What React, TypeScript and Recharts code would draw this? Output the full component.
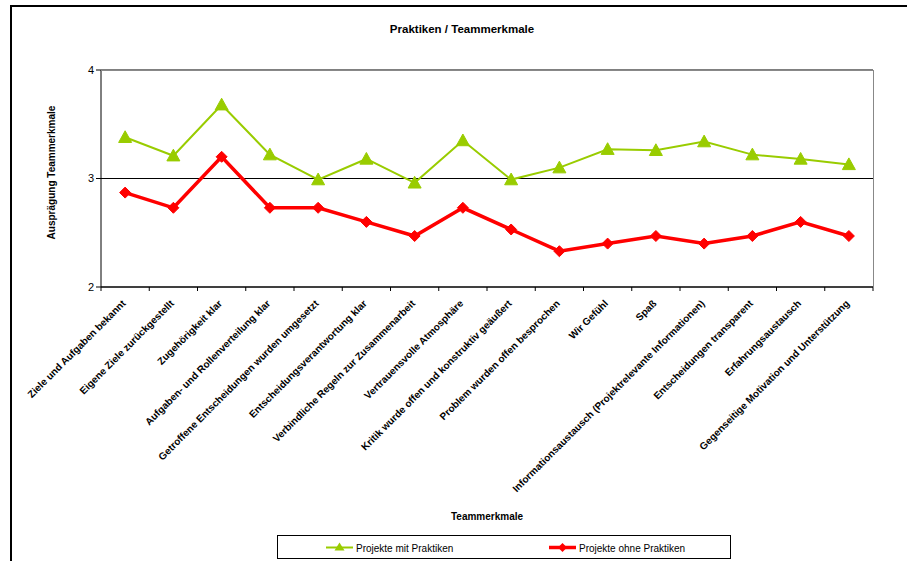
import React from 'react';
import { LineChart, Line, XAxis, YAxis, CartesianGrid } from 'recharts';

document.body.style.margin = '0';

const categories = [
  'Ziele und  Aufgaben bekannt',
  'Eigene Ziele zurückgestellt',
  'Zugehörigkeit klar',
  'Aufgaben- und Rollenverteilung klar',
  'Getroffene Entscheidungen wurden umgesetzt',
  'Entscheidungsverantwortung klar',
  'Verbindliche Regeln zur Zusammenarbeit',
  'Vertrauensvolle Atmosphäre',
  'Kritik wurde offen und konstruktiv geäußert',
  'Problem wurden offen besprochen',
  'Wir Gefühl',
  'Spaß',
  'Informationsaustausch (Projektrelevante Informationen)',
  'Entscheidungen transparent',
  'Erfahrungsaustausch',
  'Gegenseitige Motivation und Unterstützung',
];

const mitPraktiken = [3.38, 3.21, 3.68, 3.22, 2.99, 3.18, 2.96, 3.35, 2.99, 3.1, 3.27, 3.26, 3.34, 3.22, 3.18, 3.13];
const ohnePraktiken = [2.87, 2.73, 3.2, 2.73, 2.73, 2.6, 2.47, 2.73, 2.53, 2.33, 2.4, 2.47, 2.4, 2.47, 2.6, 2.47];

const yTicks = [2, 3, 4];
const seriesNames = ['Projekte mit Praktiken', 'Projekte ohne Praktiken'];

const data = categories.map((c, i) => ({
  pos: i + 0.5,
  name: c,
  mit: mitPraktiken[i],
  ohne: ohnePraktiken[i],
}));

const boundaryTicks = Array.from({ length: categories.length + 1 }, (_, i) => i);

const FONT = '"Liberation Sans", Arial, sans-serif';

const Triangle = (props: any) => {
  const { cx, cy } = props;
  if (cx == null || cy == null) return null;
  const s = 6.5;
  return (
    <polygon
      points={`${cx},${cy - s} ${cx + s},${cy + s * 0.8} ${cx - s},${cy + s * 0.8}`}
      fill="#99CC00"
      stroke="#99CC00"
      strokeWidth={1}
    />
  );
};

const Diamond = (props: any) => {
  const { cx, cy } = props;
  if (cx == null || cy == null) return null;
  const s = 5.5;
  return (
    <polygon
      points={`${cx},${cy - s} ${cx + s},${cy} ${cx},${cy + s} ${cx - s},${cy}`}
      fill="#FF0000"
      stroke="#FF0000"
      strokeWidth={1}
    />
  );
};

// Ticks sit on category boundaries; each label is drawn at the centre of the band to its right.
const CatTick = (props: any) => {
  const { x, y, payload, width } = props;
  const idx = Math.round(payload.value);
  const label = categories[idx];
  if (!label) return null;
  const band = (width ?? 772) / categories.length;
  const cx = x + band / 2;
  return (
    <g transform={`translate(${cx - 1},${y + 9})`}>
      <text
        transform="rotate(-45)"
        textAnchor="end"
        fontSize={10}
        fontWeight="bold"
        fontFamily={FONT}
        fill="#000"
        dy={3}
      >
        {label}
      </text>
    </g>
  );
};

export default function App() {
  return (
    <div style={{ position: 'relative', width: 907, height: 561, overflow: 'hidden', background: '#fff' }}>
      <div
        style={{
          position: 'absolute',
          left: 10,
          top: 5,
          width: 1000,
          height: 1000,
          borderLeft: '2px solid #000',
          borderTop: '2px solid #000',
        }}
      />
      <div
        style={{
          position: 'absolute',
          left: 0,
          top: 23,
          width: 924,
          textAlign: 'center',
          fontFamily: FONT,
          fontWeight: 'bold',
          fontSize: 11.5,
        }}
      >
        Praktiken / Teammerkmale
      </div>
      <div style={{ position: 'absolute', left: 0, top: 0 }}>
        <LineChart
          width={907}
          height={561}
          data={data}
          margin={{ top: 70, right: 34, left: 71, bottom: 70 }}
        >
          <CartesianGrid vertical={false} horizontal={true} stroke="#000" strokeWidth={1} strokeOpacity={1} />
          <XAxis
            type="number"
            dataKey="pos"
            domain={[0, categories.length]}
            ticks={boundaryTicks}
            tick={<CatTick />}
            tickLine={{ stroke: '#000' }}
            tickSize={4}
            axisLine={{ stroke: '#000' }}
            height={204}
            interval={0}
            allowDataOverflow
          />
          <YAxis
            type="number"
            domain={[2, 4]}
            ticks={yTicks}
            width={30}
            tickSize={5}
            tickLine={{ stroke: '#000' }}
            axisLine={{ stroke: '#000' }}
            tick={{ fontSize: 11, fill: '#000', fontFamily: FONT }}
            label={{
              value: 'Ausprägung Teammerkmale',
              angle: -90,
              position: 'insideLeft',
              offset: -20,
              dy: -6,
              style: { fontSize: 10, fontWeight: 'bold', fill: '#000', fontFamily: FONT, textAnchor: 'middle' },
            }}
          />
          <Line
            type="linear"
            dataKey="mit"
            name={seriesNames[0]}
            stroke="#99CC00"
            strokeWidth={2}
            dot={<Triangle />}
            isAnimationActive={false}
          />
          <Line
            type="linear"
            dataKey="ohne"
            name={seriesNames[1]}
            stroke="#FF0000"
            strokeWidth={3.5}
            dot={<Diamond />}
            isAnimationActive={false}
          />
        </LineChart>
      </div>
      <div
        style={{
          position: 'absolute',
          left: 101,
          top: 70,
          width: 772,
          height: 217,
          borderTop: '1px solid #888',
          borderRight: '1px solid #888',
          pointerEvents: 'none',
        }}
      />
      <div
        style={{
          position: 'absolute',
          left: 101,
          top: 511,
          width: 772,
          textAlign: 'center',
          fontFamily: FONT,
          fontWeight: 'bold',
          fontSize: 10,
        }}
      >
        Teammerkmale
      </div>
      <div
        style={{
          position: 'absolute',
          left: 277,
          top: 535,
          width: 454,
          height: 24,
          border: '1px solid #000',
          boxSizing: 'border-box',
          fontFamily: FONT,
        }}
      >
        <svg width={454} height={24} style={{ position: 'absolute', left: 0, top: 0 }}>
          <line x1={48} y1={11.5} x2={75} y2={11.5} stroke="#99CC00" strokeWidth={2} />
          <polygon points="61.5,6.5 66.5,14.5 56.5,14.5" fill="#99CC00" />
          <line x1={271} y1={11.5} x2={298} y2={11.5} stroke="#FF0000" strokeWidth={3.5} />
          <polygon points="284.5,7 289,11.5 284.5,16 280,11.5" fill="#FF0000" />
          <text x={78} y={15.5} fontSize={10} fontFamily={FONT} fill="#000">{seriesNames[0]}</text>
          <text x={301} y={15.5} fontSize={10} fontFamily={FONT} fill="#000">{seriesNames[1]}</text>
        </svg>
      </div>
    </div>
  );
}
